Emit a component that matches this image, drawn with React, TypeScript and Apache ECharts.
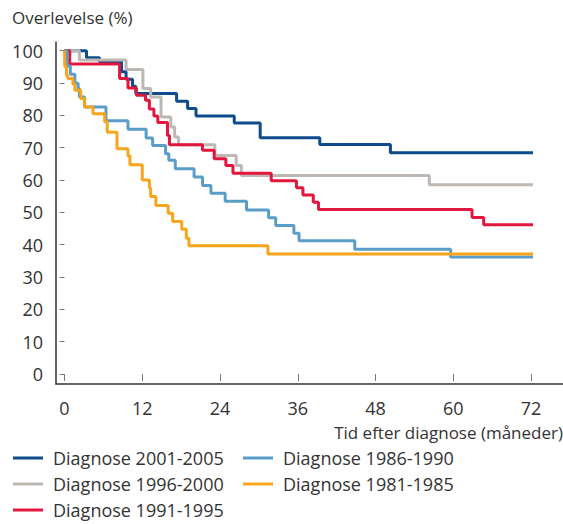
import React, { useEffect, useRef } from "react";
import * as echarts from "echarts";

const FONT = "'Open Sans', 'Noto Sans', sans-serif";

const seriesNames = [
  "Diagnose 2001-2005",
  "Diagnose 1996-2000",
  "Diagnose 1991-1995",
  "Diagnose 1986-1990",
  "Diagnose 1981-1985",
];
const seriesColors = ["#0f4c8c", "#bdb8b3", "#e3173e", "#5b9dc9", "#f7a51c"];

const yAxisTitle = "Overlevelse (%)";
const xAxisTitle = "Tid efter diagnose (måneder)";

// months / survival (%) pairs, Kaplan-Meier step points
const t2001 = [0, 3.4, 5.4, 8.8, 9.5, 10.5, 11.0, 17.3, 19.0, 20.3, 26.2, 30.2, 39.4, 50.3, 73.5];
const s2001 = [100, 97.8, 96.6, 93.5, 91.2, 89.0, 86.8, 84.4, 82.1, 79.8, 77.6, 73.1, 71.0, 68.4, 68.4];

const t1996 = [0, 2.3, 9.5, 12.1, 13.3, 14.9, 16.4, 17.0, 17.6, 23.2, 26.5, 27.3, 56.3, 73.5];
const s1996 = [100, 97.1, 94.2, 88.3, 85.7, 79.5, 76.4, 73.3, 70.9, 67.6, 64.5, 61.4, 58.5, 58.5];

const t1991 = [0, 0.8, 8.5, 9.8, 11.1, 12.5, 13.1, 13.8, 14.4, 15.9, 16.2, 21.3, 23.1, 24.9, 26.0, 31.9, 35.8, 36.8, 38.4, 39.2, 62.9, 64.7, 73.5];
const s1991 = [100, 95.9, 91.4, 88.5, 86.2, 84.7, 82.0, 79.8, 77.8, 73.8, 70.9, 69.2, 66.6, 64.5, 62.1, 59.8, 57.6, 55.4, 53.1, 50.9, 48.4, 46.2, 46.2];

const t1986 = [0, 0.4, 0.9, 1.6, 2.1, 2.3, 3.1, 6.4, 9.8, 12.6, 13.6, 15.6, 16.1, 17.1, 20.0, 21.3, 22.6, 24.8, 28.1, 31.5, 32.6, 35.4, 36.2, 44.8, 59.6, 73.5];
const s1986 = [100, 95.3, 92.7, 89.9, 88.3, 85.7, 82.6, 78.3, 75.7, 73.0, 70.7, 68.1, 66.1, 63.5, 60.9, 58.3, 55.9, 53.4, 50.7, 48.3, 45.9, 43.5, 41.2, 38.6, 36.2, 36.2];

const t1981 = [0, 0.05, 0.3, 0.5, 1.3, 1.6, 2.5, 3.1, 4.4, 6.2, 6.6, 8.1, 9.8, 10.1, 12.0, 13.1, 13.3, 14.1, 16.0, 16.7, 18.1, 18.8, 19.2, 31.4, 73.5];
const s1981 = [100, 95.1, 92.4, 91.4, 89.6, 87.8, 85.2, 82.6, 80.5, 78.0, 74.8, 69.7, 67.4, 64.7, 60.0, 57.5, 54.9, 52.1, 49.7, 47.2, 44.8, 42.0, 39.7, 37.1, 37.1];

const seriesTimes = [t2001, t1996, t1991, t1986, t1981];
const seriesSurvival = [s2001, s1996, s1991, s1986, s1981];

const xMin = 0;
const xMax = 72;
const xInterval = 12;
const yMin = 0;
const yMax = 100;
const yInterval = 10;

export default function App() {
  const ref = useRef<HTMLDivElement>(null);

  useEffect(() => {
    document.body.style.margin = "0";
    if (!ref.current) return;
    const chart = echarts.init(ref.current, undefined, { renderer: "svg" });

    const textColor = "#333";

    const series = seriesNames.map((name, i) => ({
      name,
      type: "line",
      xAxisIndex: 0,
      yAxisIndex: 0,
      step: "end",
      symbol: "none",
      showSymbol: false,
      clip: false,
      color: seriesColors[i],
      lineStyle: { width: 3, color: seriesColors[i] },
      data: seriesTimes[i].map((t, j) => [t, seriesSurvival[i][j]]),
    }));

    const legendBase = {
      orient: "vertical",
      top: 449,
      padding: 0,
      itemWidth: 30,
      itemHeight: 3,
      itemGap: 8,
      icon: "rect",
      textStyle: {
        fontFamily: FONT,
        fontSize: 18,
        lineHeight: 18,
        color: textColor,
        padding: [0, 0, 0, 5],
      },
    };

    chart.setOption({
      animation: false,
      backgroundColor: "#fff",
      textStyle: { fontFamily: FONT },
      title: [
        {
          text: yAxisTitle,
          left: 12,
          top: 7,
          padding: 0,
          textStyle: { fontFamily: FONT, fontSize: 17, fontWeight: "normal", color: textColor, lineHeight: 20 },
        },
        {
          text: xAxisTitle,
          right: 0,
          top: 422,
          padding: 0,
          textStyle: { fontFamily: FONT, fontSize: 17, fontWeight: "normal", color: textColor, lineHeight: 20 },
        },
      ],
      legend: [
        { ...legendBase, left: 13, data: [seriesNames[0], seriesNames[1], seriesNames[2]] },
        { ...legendBase, left: 243, data: [seriesNames[3], seriesNames[4]] },
      ],
      grid: [
        { left: 64.5, right: 32, top: 50.7, bottom: 150, containLabel: false },
        { left: 56, right: 0, top: 42, bottom: 140, containLabel: false },
      ],
      xAxis: [
        {
          type: "value",
          gridIndex: 0,
          min: xMin,
          max: xMax,
          interval: xInterval,
          offset: 10,
          axisLine: { show: false },
          axisTick: { show: true, length: 7, lineStyle: { color: "#777", width: 1 } },
          axisLabel: { margin: 15, fontFamily: FONT, fontSize: 18, color: textColor },
          splitLine: { show: false },
        },
        {
          type: "value",
          gridIndex: 1,
          min: 0,
          max: 1,
          axisLine: { show: true, onZero: false, lineStyle: { color: "#333", width: 1.5 } },
          axisTick: { show: false },
          axisLabel: { show: false },
          splitLine: { show: false },
        },
      ],
      yAxis: [
        {
          type: "value",
          gridIndex: 0,
          min: yMin,
          max: yMax,
          interval: yInterval,
          offset: 8.5,
          axisLine: { show: false },
          axisTick: { show: true, length: 5, lineStyle: { color: "#777", width: 1 } },
          axisLabel: { margin: 13, fontFamily: FONT, fontSize: 18, color: textColor },
          splitLine: { show: false },
        },
        {
          type: "value",
          gridIndex: 1,
          min: 0,
          max: 1,
          axisLine: { show: true, onZero: false, lineStyle: { color: "#333", width: 1.5 } },
          axisTick: { show: false },
          axisLabel: { show: false },
          splitLine: { show: false },
        },
      ],
      series,
    });

    return () => {
      chart.dispose();
    };
  }, []);

  return (
    <div
      ref={ref}
      style={{ position: "fixed", left: 0, top: 0, width: 563, height: 524 }}
    />
  );
}
